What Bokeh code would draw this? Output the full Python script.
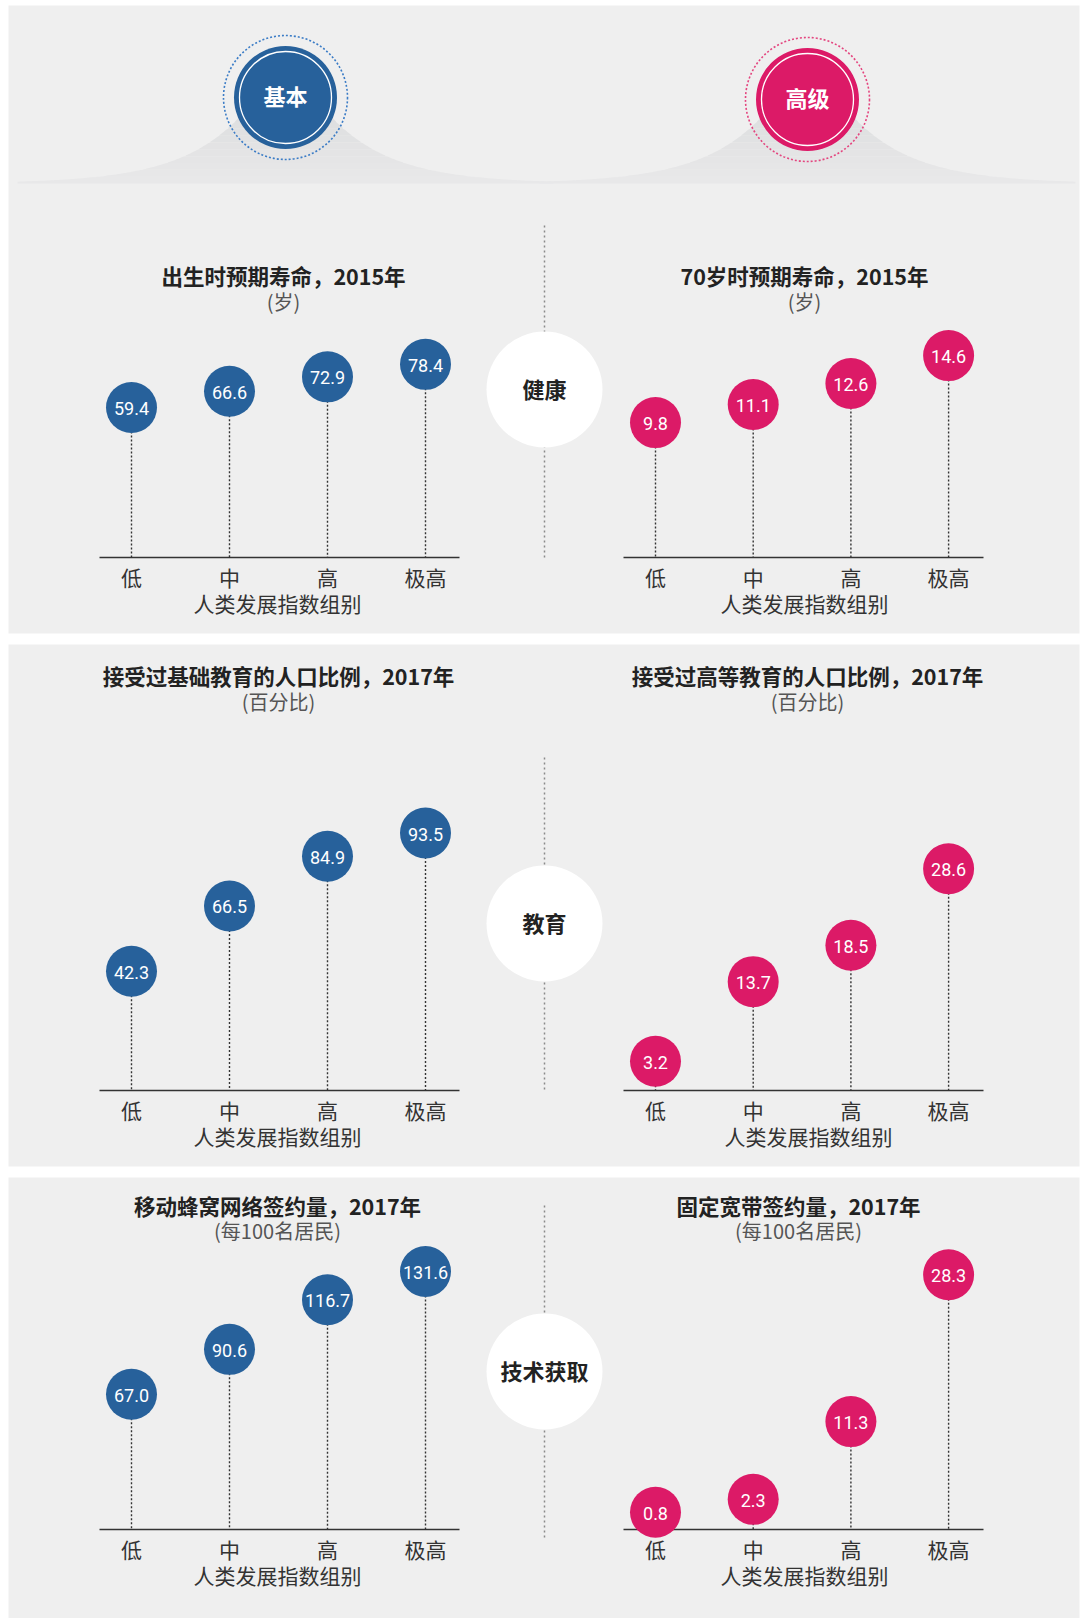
import numpy as np
from bokeh.plotting import figure
from bokeh.models import Range1d
from bokeh.core.properties import value
from bokeh.embed import file_html
from bokeh.resources import INLINE

# ---------------- data ----------------
categories = ["低", "中", "高", "极高"]
axis_title = "人类发展指数组别"
level_names = ["基本", "高级"]
section_names = ["健康", "教育", "技术获取"]

titles_basic = ["出生时预期寿命，2015年", "接受过基础教育的人口比例，2017年", "移动蜂窝网络签约量，2017年"]
titles_adv = ["70岁时预期寿命，2015年", "接受过高等教育的人口比例，2017年", "固定宽带签约量，2017年"]
units_basic = ["(岁)", "(百分比)", "(每100名居民)"]
units_adv = ["(岁)", "(百分比)", "(每100名居民)"]

life_birth = [59.4, 66.6, 72.9, 78.4]
life_70 = [9.8, 11.1, 12.6, 14.6]
edu_basic = [42.3, 66.5, 84.9, 93.5]
edu_tertiary = [3.2, 13.7, 18.5, 28.6]
mobile = [67.0, 90.6, 116.7, 131.6]
broadband = [0.8, 2.3, 11.3, 28.3]

# ---------------- style / layout ----------------
W, H = 1086, 1618
BLUE = "#27619b"
PINK = "#dc1a67"
BG = "#efefef"
CJK = value("Noto Sans CJK SC")
NUM = value("Roboto")

p = figure(width=W, height=H, x_range=Range1d(0, W), y_range=Range1d(H, 0),
           output_backend="svg", toolbar_location=None, min_border=0,
           x_axis_type=None, y_axis_type=None, background_fill_color="white",
           border_fill_color="white", outline_line_color=None)
p.grid.visible = False

# panel layout: (top, bottom, baseline, title_y, sub_y, center_y, line_top, line_bottom)
panels = [
    (5, 633, 557, 275, 301, 389, 225, 557),
    (644, 1166, 1090, 675, 701, 923, 757, 1090),
    (1177, 1618, 1529, 1205, 1230, 1371, 1205, 1538),
]
for (top, bot, *_rest) in panels:
    p.quad(left=8, right=1079, top=top, bottom=bot, fill_color=BG, line_color=None)

# header mounds (decoration)
def lerp_color(c1, c2, t):
    a = [int(c1[i:i + 2], 16) for i in (1, 3, 5)]
    b = [int(c2[i:i + 2], 16) for i in (1, 3, 5)]
    return "#%02x%02x%02x" % tuple(int(round(a[k] + (b[k] - a[k]) * t)) for k in range(3))

def mound(cx, base=183, amp=140, w=62, half=268, n=18):
    xs = np.linspace(max(cx - half, 10), min(cx + half, 1077), 240)
    curve = np.maximum(base - amp * np.exp(-np.abs(xs - cx) / w), 60)
    edges = np.linspace(60, base, n + 1)
    for k in range(n):
        ytop, ybot = edges[k], edges[k + 1]
        m = curve < ybot
        if m.sum() < 2:
            continue
        xm = xs[m]
        up = np.maximum(curve[m], ytop)
        px = list(xm) + list(xm[::-1])
        py = list(up) + [ybot] * len(xm)
        col = lerp_color("#d4d5d7", "#e9e9ea", (k + 0.5) / n)
        p.patch(px, py, fill_color=col, line_color=None)

mound(285)
mound(807)

# header badges
badges = [(285, 97, BLUE, "#3b7cc6"), (807, 99, PINK, "#e4457f")]
for (cx, cy, fill, ring), name in zip(badges, level_names):
    p.scatter([cx], [cy], size=124, marker="circle", fill_color=None, line_color=ring,
              line_width=1.6, line_dash="2 2")
    p.scatter([cx], [cy], size=103, marker="circle", fill_color=fill, line_color=None)
    p.scatter([cx], [cy], size=92, marker="circle", fill_color=None, line_color="white", line_width=1.3)
    p.text([cx], [cy - 3], text=[name], text_color="white", text_font=CJK, text_font_style="bold",
           text_font_size="22px", text_align="center", text_baseline="middle")

# center dividers and section circles
for (top, bot, base, ty, sy, cy, lt, lb), sec in zip(panels, section_names):
    p.segment(x0=[544], y0=[lt], x1=[544], y1=[lb], line_color="#8a8a8a", line_width=1.5,
              line_dash="2 3")
    p.scatter([544], [cy], size=116, marker="circle", fill_color="white", line_color=None)
    p.text([544], [cy - 2], text=[sec], text_color="#222222", text_font=CJK, text_font_style="bold",
           text_font_size="22px", text_align="center", text_baseline="middle")

# charts: (values, title, unit, color, side, panel idx, offset a, px per unit b, title_x, label_x)
charts = [
    (life_birth, titles_basic[0], units_basic[0], BLUE, "L", 0, 14.8, 2.275, 283, 277),
    (life_70, titles_adv[0], units_adv[0], PINK, "R", 0, -1.9, 13.96, 804, 804),
    (edu_basic, titles_basic[1], units_basic[1], BLUE, "L", 1, 5.0, 2.70, 278, 277),
    (edu_tertiary, titles_adv[1], units_adv[1], PINK, "R", 1, 5.0, 7.58, 807, 808),
    (mobile, titles_basic[2], units_basic[2], BLUE, "L", 2, 8.0, 1.90, 277, 277),
    (broadband, titles_adv[2], units_adv[2], PINK, "R", 2, 10.3, 8.64, 798, 804),
]
sides = {"L": (131.0, 98.0, 99, 459), "R": (655.0, 97.7, 623, 983)}

for n, (vals, title, unit, color, side, pi, a, b, tx, lx) in enumerate(charts):
    top, bot, base, ty, sy, cy, lt, lb = panels[pi]
    x0, step, ax0, ax1 = sides[side]
    xr, yr = "x%d" % n, "y%d" % n
    p.extra_x_ranges[xr] = Range1d(-x0 / step, (W - x0) / step)
    p.extra_y_ranges[yr] = Range1d((base - a - H) / b, (base - a) / b)
    idx = list(range(len(categories)))
    base_val = -a / b
    # stems
    p.segment(x0=idx, y0=vals, x1=idx, y1=[base_val] * len(vals), x_range_name=xr, y_range_name=yr,
              line_color="#333333", line_width=1.4, line_dash="2 2")
    # axis line
    p.segment(x0=[ax0], y0=[base], x1=[ax1], y1=[base], line_color="#333333", line_width=1.6)
    # bubbles
    p.scatter(idx, vals, size=51, marker="circle", fill_color=color, line_color=None,
              x_range_name=xr, y_range_name=yr)
    p.text(idx, vals, text=["%.1f" % v for v in vals], x_range_name=xr, y_range_name=yr,
           text_color="white", text_font=NUM, text_font_size="18px", text_align="center",
           text_baseline="middle", y_offset=1)
    # category labels
    p.text(idx, [base + 19] * len(idx), text=categories, x_range_name=xr,
           text_color="#333333", text_font=CJK, text_font_size="21px", text_align="center",
           text_baseline="middle")
    p.text([lx], [base + 45], text=[axis_title], text_color="#333333", text_font=CJK,
           text_font_size="21px", text_align="center", text_baseline="middle")
    # titles
    p.text([tx], [ty], text=[title], text_color="#222222", text_font=CJK, text_font_style="bold",
           text_font_size="21.5px", text_align="center", text_baseline="middle")
    p.text([tx], [sy], text=[unit], text_color="#555555", text_font=CJK,
           text_font_size="20px", text_align="center", text_baseline="middle")

open("out.html", "w").write(file_html(p, INLINE))
